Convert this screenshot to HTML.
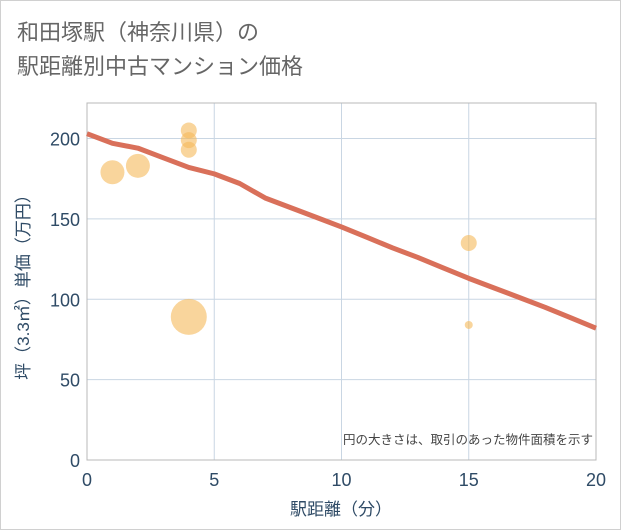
<!DOCTYPE html>
<html><head><meta charset="utf-8">
<style>
body{margin:0;background:#fff;}
.wrap{position:relative;width:619px;height:528px;border:1px solid #d0d0d0;background:#fff;font-family:"Liberation Sans","Noto Sans CJK JP",sans-serif;}
.title{position:absolute;left:16px;top:15px;font-size:22px;line-height:34px;color:#666;}
svg{position:absolute;left:0;top:0;}
svg text{font-family:"Liberation Sans","Noto Sans CJK JP",sans-serif;}
</style></head><body>
<div class="wrap">
<div class="title">和田塚駅（神奈川県）の<br>駅距離別中古マンション価格</div>
<svg id="chart" width="621" height="530"></svg>
</div>
<script>
const xTicks=[0,5,10,15,20];
const yTicks=[0,50,100,150,200];
const bubbleX=[1,2,4,4,4,4,15,15];
const bubbleY=[179,183,205,199,193,89,135,84];
const bubbleR=[12,12,8,8,8,18,8,4];
const lineX=[0,1,2,3,4,5,6,7,8,9,10,11,12,13,14,15,16,17,18,19,20];
const lineY=[203,197,194,188,182,178,172,163,157,151,145,138.5,132,126,119.5,113,107,101,95,88.5,82];
const L=86,R=595,T=102,B=459;
const sx=v=>L+(v-0)/(20-0)*(R-L);
const sy=v=>B-(v-0)/(200-0)*(B-137.5);
const svg=document.getElementById('chart');
const NS='http://www.w3.org/2000/svg';
function mk(tag,attrs){const e=document.createElementNS(NS,tag);for(const k in attrs)e.setAttribute(k,attrs[k]);svg.appendChild(e);return e;}
xTicks.forEach(t=>{
 const g=mk('line',{x1:sx(t),x2:sx(t),y1:T,y2:B,stroke:'#c9d6e3','stroke-width':1});
 
 
 const tx=mk('text',{x:sx(t),y:B+26,'text-anchor':'middle','font-size':18,fill:'#2f4b66'});
 tx.textContent=t;
 
 
});
yTicks.forEach(t=>{
 const g=mk('line',{x1:L,x2:R,y1:sy(t),y2:sy(t),stroke:'#c9d6e3','stroke-width':1});
 
 
 const tx=mk('text',{x:L-7,y:sy(t)+7,'text-anchor':'end','font-size':18,fill:'#2f4b66'});
 tx.textContent=t;
 
 
});
const frame=mk('rect',{x:L,y:T,width:R-L,height:B-T,fill:'none',stroke:'#b8b8b8','stroke-width':1});


bubbleX.forEach((x,i)=>{
 const c=mk('circle',{cx:sx(x),cy:sy(bubbleY[i]),r:bubbleR[i],fill:'#f5b95a','fill-opacity':0.6});
 
 
});
const pts=lineX.map((x,i)=>sx(x)+','+sy(lineY[i])).join(' ');
const pl=mk('polyline',{points:pts,fill:'none',stroke:'#d9705a','stroke-width':5,'stroke-linejoin':'round'});


const note=mk('text',{x:592,y:443,'text-anchor':'end','font-size':12.5,fill:'#444'});
note.textContent='円の大きさは、取引のあった物件面積を示す';


const xt=mk('text',{x:340,y:514,'text-anchor':'middle','font-size':17,fill:'#2f4b66'});
xt.textContent='駅距離（分）';


const yt=mk('text',{x:0,y:0,'text-anchor':'middle','font-size':17,fill:'#2f4b66',transform:'translate(28,282) rotate(-90)'});
yt.textContent='坪（3.3㎡）単価（万円）';


</script>
</body></html>
